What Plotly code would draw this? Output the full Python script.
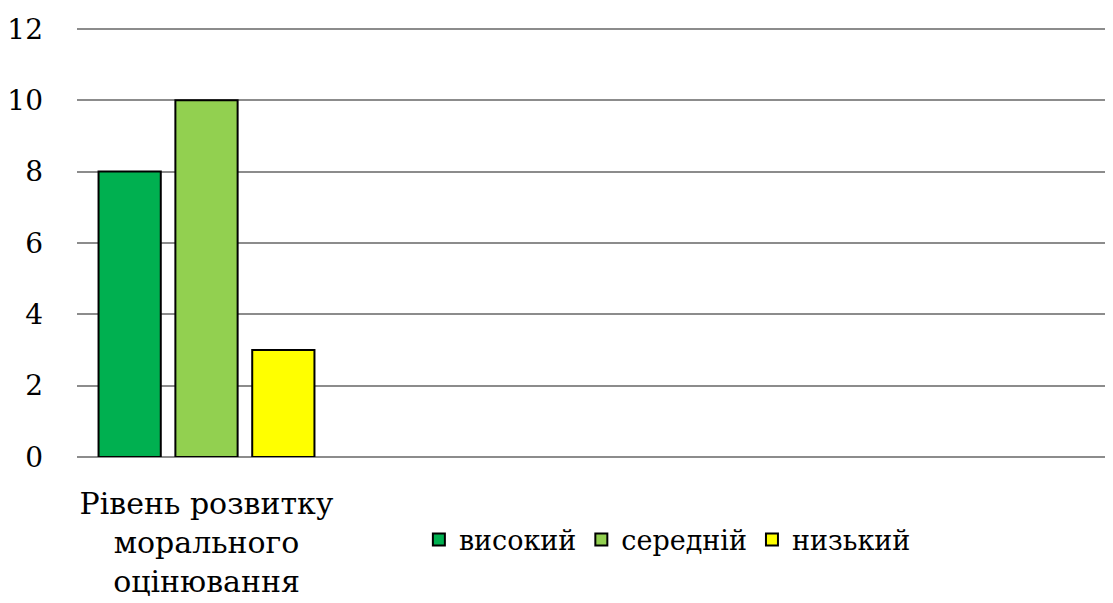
import plotly.graph_objects as go

categories = ["Рівень розвитку<br>морального<br>оцінювання"]
series_names = ["високий", "середній", "низький"]
series_values = [[8], [10], [3]]
series_colors = ["#00B050", "#92D050", "#FFFF00"]
y_ticks = [0, 2, 4, 6, 8, 10, 12]

FONT = "DejaVu Serif"

fig = go.Figure()
for name, vals, col in zip(series_names, series_values, series_colors):
    fig.add_trace(go.Bar(
        x=categories, y=vals, name=name,
        marker=dict(color=col, line=dict(color="black", width=2)),
    ))

fig.update_layout(
    width=1105, height=595,
    margin=dict(l=69, r=0, t=19, b=146, autoexpand=False),
    paper_bgcolor="white", plot_bgcolor="white",
    barmode="group", bargap=0.11, bargroupgap=0.19,
    font=dict(family=FONT, size=27, color="black"),
    showlegend=True,
    legend=dict(
        orientation="h", x=0.33, xanchor="left", y=-0.193, yanchor="middle",
        font=dict(family=FONT, size=27, color="black"),
        bgcolor="rgba(0,0,0,0)",
    ),
    xaxis=dict(
        type="category", range=[-0.5, 3.5], automargin=False,
        showgrid=False, showline=False, zeroline=False,
        tickfont=dict(family=FONT, size=30, color="black"),
        ticks="", ticklabelstandoff=26,
    ),
    yaxis=dict(
        range=[0, 12.05], tickvals=y_ticks, automargin=False,
        showgrid=True, gridcolor="#8c8c8c", gridwidth=2,
        zeroline=True, zerolinecolor="#8c8c8c", zerolinewidth=2,
        showline=False, ticks="", ticklabelstandoff=33,
        tickfont=dict(family=FONT, size=28, color="black"),
    ),
)

fig.write_html("out.html")
